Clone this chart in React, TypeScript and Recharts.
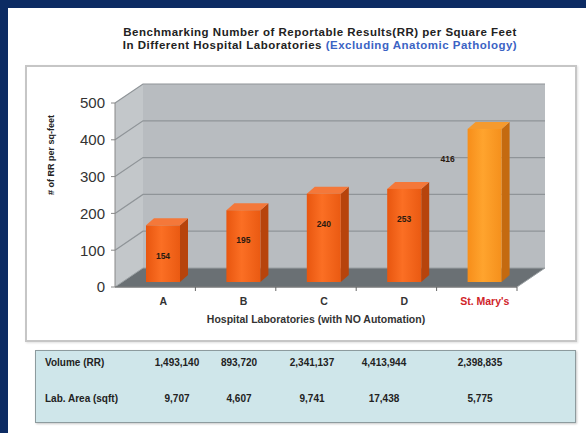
import React from "react";
import { BarChart, Bar, XAxis, YAxis, ReferenceArea, LabelList } from "recharts";

const labs = ["A", "B", "C", "D", "St. Mary's"];
const rrPerSqft = [154, 195, 240, 253, 416];
const volumeRR = ["1,493,140", "893,720", "2,341,137", "4,413,944", "2,398,835"];
const labArea = ["9,707", "4,607", "9,741", "17,438", "5,775"];
const yTicks = [0, 100, 200, 300, 400, 500];

const data = labs.map((lab, i) => ({ lab, rr: rrPerSqft[i] }));

// 3d look
const DX = 28;
const DY = 19;
const BSHIFT_X = 8;
const BSHIFT_Y = 5;
const BDX = 8;
const BDY = 7;
const FONT = "Arial, 'Liberation Sans', sans-serif";

const Walls = (props: any) => {
  const { x, y, width: w, height: h } = props;
  const bottom = y + h;
  const n = labs.length;
  return (
    <g>
      <rect x={x + DX} y={y - DY} width={w} height={h} fill="#b8bcc0" />
      <polygon
        points={`${x},${y} ${x + DX},${y - DY} ${x + DX},${bottom - DY} ${x},${bottom}`}
        fill="#c3c7ca"
      />
      {yTicks.slice(1).map((v) => {
        const fy = bottom - (v / 500) * h;
        return (
          <polyline
            key={v}
            points={`${x},${fy} ${x + DX},${fy - DY} ${x + w + DX},${fy - DY}`}
            fill="none"
            stroke="#8f9498"
            strokeWidth={1.2}
          />
        );
      })}
      <polygon
        points={`${x},${bottom} ${x + w},${bottom} ${x + w + DX},${bottom - DY} ${x + DX},${bottom - DY}`}
        fill="#6a7074"
        stroke="#9aa0a3"
        strokeWidth={1}
      />
      {Array.from({ length: n }, (_, i) => (
        <line
          key={i}
          x1={x + ((i + 1) * w) / n}
          x2={x + ((i + 1) * w) / n}
          y1={bottom}
          y2={bottom + 4}
          stroke="#666"
        />
      ))}
    </g>
  );
};

const Bar3D = (props: any) => {
  const { x, y, width, height, index } = props;
  const last = index === labs.length - 1;
  const bx = x + BSHIFT_X;
  const by = y - BSHIFT_Y;
  const front = last ? "url(#gMary)" : "url(#gLab)";
  const side = last ? "#c46a10" : "#b7440c";
  const top = last ? "#f59a2e" : "#f4783a";
  return (
    <g>
      <polygon
        points={`${bx + width},${by} ${bx + width + BDX},${by - BDY} ${bx + width + BDX},${by + height - BDY} ${bx + width},${by + height}`}
        fill={side}
      />
      <polygon
        points={`${bx},${by} ${bx + BDX},${by - BDY} ${bx + width + BDX},${by - BDY} ${bx + width},${by}`}
        fill={top}
      />
      <rect x={bx} y={by} width={width} height={height} fill={front} />
    </g>
  );
};

const ValueLabel = (props: any) => {
  const { x, y, width, index, value } = props;
  const last = index === labs.length - 1;
  const cx = last ? x + BSHIFT_X - 20 : x + BSHIFT_X + width / 2;
  return (
    <text x={cx} y={y - BSHIFT_Y + 31} textAnchor="middle" dominantBaseline="middle"
      fontFamily={FONT} fontSize={8.5} fontWeight="bold" fill="#2a1a10">
      {value}
    </text>
  );
};

const LabTick = (props: any) => {
  const { x, y, payload, index } = props;
  const last = index === labs.length - 1;
  return (
    <text x={x + 8} y={y + 10} textAnchor="middle" fontFamily={FONT} fontSize={10.5}
      fontWeight="bold" fill={last ? "#d0242a" : "#333"}>
      {payload.value}
    </text>
  );
};

const colCenters = [141, 203, 276, 348, 444];

export default function App() {
  return (
    <div style={{ position: "absolute", left: 0, top: 0, width: 586, height: 433, background: "#fff", overflow: "hidden", fontFamily: FONT }}>
      <div style={{ position: "absolute", left: 0, top: 0, width: 586, height: 8, background: "#0c2b63" }} />
      <div style={{ position: "absolute", left: 0, top: 0, width: 8, height: 433, background: "#0c2b63" }} />

      <div style={{ position: "absolute", left: 40, top: 26, width: 560, textAlign: "center", fontSize: 11.5, fontWeight: "bold", lineHeight: "13px", color: "#222", letterSpacing: 0.5 }}>
        <div>Benchmarking Number of Reportable Results(RR) per Square Feet</div>
        <div>
          In Different Hospital Laboratories <span style={{ color: "#3b63c4" }}>(Excluding Anatomic Pathology)</span>
        </div>
      </div>

      <div style={{ position: "absolute", left: 25, top: 65, width: 552, height: 277, boxSizing: "border-box", border: "2px solid #c6c6c6", boxShadow: "1px 1px 2px #e0e0e0" }} />

      <div style={{ position: "absolute", left: 25, top: 65 }}>
        <BarChart width={552} height={277} data={data} margin={{ top: 38, right: 60, bottom: 0, left: 0 }} barSize={34}>
          <defs>
            <linearGradient id="gLab" x1="0" y1="0" x2="1" y2="0">
              <stop offset="0%" stopColor="#e8560f" />
              <stop offset="45%" stopColor="#fb6f24" />
              <stop offset="100%" stopColor="#ea5a12" />
            </linearGradient>
            <linearGradient id="gMary" x1="0" y1="0" x2="1" y2="0">
              <stop offset="0%" stopColor="#f78e1a" />
              <stop offset="45%" stopColor="#ffa42e" />
              <stop offset="100%" stopColor="#f5901c" />
            </linearGradient>
          </defs>
          <ReferenceArea y1={0} y2={500} shape={<Walls />} ifOverflow="visible" />
          <XAxis dataKey="lab" height={55} tickLine={false} axisLine={{ stroke: "#666" }}
            tick={<LabTick />} interval={0}
            label={{ value: "Hospital Laboratories (with NO Automation)", position: "insideBottom", offset: 19, fontSize: 10.5, fontWeight: "bold", fill: "#333", fontFamily: FONT }} />
          <YAxis type="number" domain={[0, 500]} ticks={yTicks} width={90} interval={0}
            tickSize={4} tickMargin={6} axisLine={{ stroke: "#888" }} tickLine={{ stroke: "#888" }}
            tick={{ fontSize: 15, fill: "#333", fontFamily: FONT }}
            label={{ value: "# of RR per sq-feet", angle: -90, position: "insideLeft", offset: 26, fontSize: 9, fontWeight: "bold", fill: "#222", fontFamily: FONT }} />
          <Bar dataKey="rr" shape={<Bar3D />} isAnimationActive={false}>
            <LabelList dataKey="rr" content={<ValueLabel />} />
          </Bar>
        </BarChart>
      </div>

      <div style={{ position: "absolute", left: 35, top: 350, width: 541, height: 73, boxSizing: "border-box", background: "#cfe6ea", border: "1px solid #8d9b9e", boxShadow: "1px 1px 2px #c8c8c8" }}>
        {[["Volume (RR)", volumeRR, 6], ["Lab. Area (sqft)", labArea, 42]].map(([name, vals, top]: any) => (
          <React.Fragment key={name}>
            <div style={{ position: "absolute", left: 9, top, fontSize: 10, lineHeight: "12px", fontWeight: "bold", color: "#222" }}>{name}</div>
            {vals.map((v: string, i: number) => (
              <div key={i} style={{ position: "absolute", left: colCenters[i] - 40, width: 80, top, textAlign: "center", fontSize: 10, lineHeight: "12px", fontWeight: "bold", color: "#222" }}>
                {v}
              </div>
            ))}
          </React.Fragment>
        ))}
      </div>
    </div>
  );
}
